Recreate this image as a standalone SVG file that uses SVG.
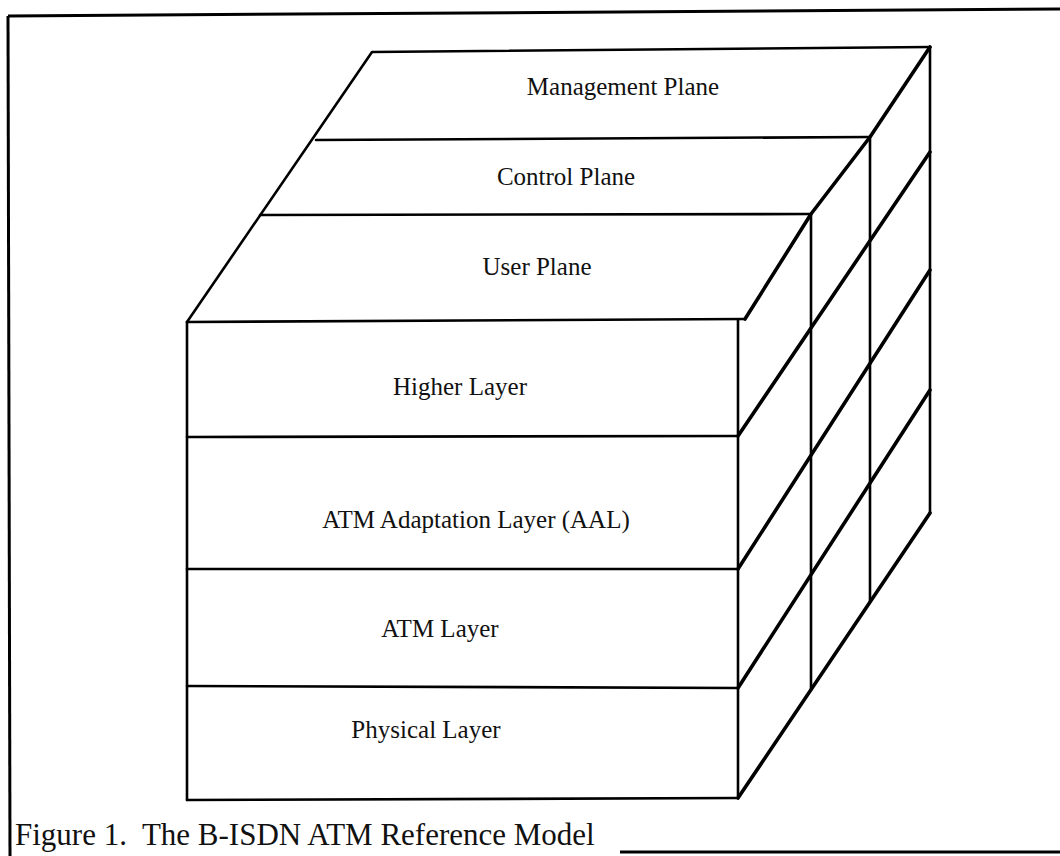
<svg xmlns="http://www.w3.org/2000/svg" width="1060" height="856" viewBox="0 0 1060 856">
  <style>
    .ln { stroke: #000; stroke-width: 2.6; fill: none; stroke-linecap: round; stroke-linejoin: round; }
    .dg { stroke: #000; stroke-width: 3.6; fill: none; stroke-linecap: round; stroke-linejoin: round; }
    .fr { stroke: #000; stroke-width: 3; fill: none; }
    .lbl { font-family: "Liberation Serif", "Times New Roman", serif; font-size: 25px; fill: #111; text-anchor: middle; }
    .cap { font-family: "Liberation Serif", "Times New Roman", serif; font-size: 31px; fill: #111; }
  </style>
  <rect x="0" y="0" width="1060" height="856" fill="#fff"/>

  <g id="frame">
    <line class="fr" x1="8" y1="16" x2="1060" y2="9"/>
    <line class="fr" x1="8" y1="16" x2="10" y2="856"/>
    <line class="fr" x1="620" y1="852" x2="1060" y2="852"/>
  </g>

  <g id="connectors">
    <!-- top face -->
    <polyline class="ln" points="187,322 372,52 930,47"/>
    <line class="ln" x1="316" y1="140" x2="870" y2="137"/>
    <line class="ln" x1="260" y1="215" x2="811" y2="214"/>
    <!-- front face -->
    <line class="ln" x1="187" y1="322" x2="745" y2="319"/>
    <line class="ln" x1="187" y1="437" x2="738" y2="436"/>
    <line class="ln" x1="187" y1="569" x2="738" y2="569"/>
    <line class="ln" x1="187" y1="686" x2="738" y2="688"/>
    <line class="ln" x1="187" y1="800" x2="738" y2="798"/>
    <line class="ln" x1="187" y1="322" x2="187" y2="800"/>
    <line class="ln" x1="738" y1="320" x2="738" y2="798"/>
    <!-- right face verticals -->
    <line class="ln" x1="811" y1="214" x2="811" y2="690"/>
    <line class="ln" x1="870" y1="137" x2="870" y2="602"/>
    <line class="ln" x1="930" y1="47" x2="930" y2="513"/>
    <!-- right face diagonals -->
    <polyline class="dg" points="745,319 811,214 870,137 930,47"/>
    <line class="dg" x1="738" y1="436" x2="930" y2="152"/>
    <line class="dg" x1="738" y1="569" x2="930" y2="270"/>
    <line class="dg" x1="738" y1="688" x2="930" y2="390"/>
    <line class="dg" x1="738" y1="798" x2="930" y2="513"/>
  </g>

  <g id="management-plane"><text class="lbl" x="623" y="95">Management Plane</text></g>
  <g id="control-plane"><text class="lbl" x="566" y="185">Control Plane</text></g>
  <g id="user-plane"><text class="lbl" x="537" y="275">User Plane</text></g>
  <g id="higher-layer"><text class="lbl" x="460" y="395">Higher Layer</text></g>
  <g id="aal-layer"><text class="lbl" x="476" y="528">ATM Adaptation Layer (AAL)</text></g>
  <g id="atm-layer"><text class="lbl" x="440" y="637">ATM Layer</text></g>
  <g id="physical-layer"><text class="lbl" x="426" y="738">Physical Layer</text></g>

  <g id="caption"><text class="cap" x="15" y="845">Figure 1.&#160; The B-ISDN ATM Reference Model</text></g>
</svg>
